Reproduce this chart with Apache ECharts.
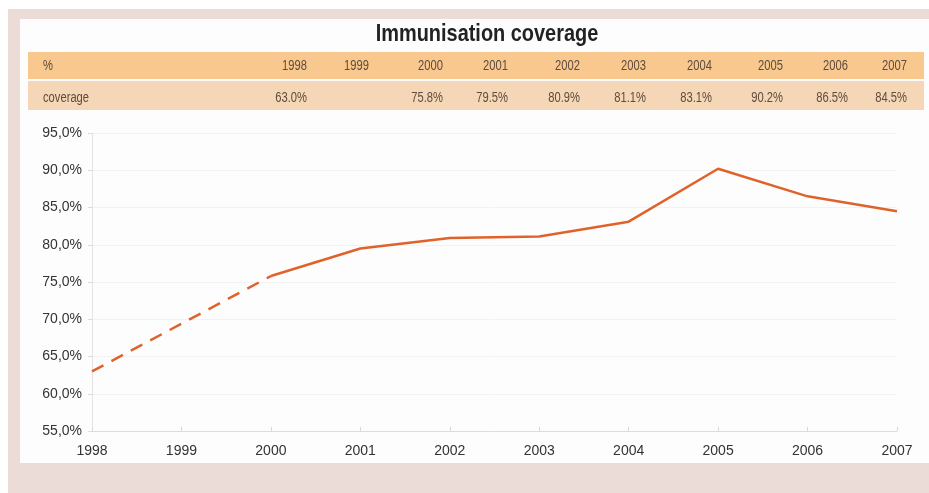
<!DOCTYPE html>
<html>
<head>
<meta charset="utf-8">
<script src="https://cdn.jsdelivr.net/npm/echarts@6/dist/echarts.min.js"></script>
<style>
html,body{margin:0;padding:0;background:#fff;}
#c{width:929px;height:493px;}
</style>
</head>
<body>
<div id="c"></div>
<script>
// ---- data ----
var years = ['1998','1999','2000','2001','2002','2003','2004','2005','2006','2007'];
var coverage = [63.0, null, 75.8, 79.5, 80.9, 81.1, 83.1, 90.2, 86.5, 84.5];
var tableHeaderLabel = '%';
var tableRowLabel = 'coverage';
var titleText = 'Immunisation coverage';

// ---- table layout (column right edges) ----
var colRight = [307, 369, 443, 508, 580, 646, 712, 783, 848, 907];

var chart = echarts.init(document.getElementById('c'));

var dashedData = coverage.map(function (v, i) { return (i <= 2 && v != null) ? v : '-'; });
var solidData = coverage.map(function (v, i) { return (i >= 2 && v != null) ? v : '-'; });

var tableFont = '14px "Liberation Sans", Arial, sans-serif';
var txtCol = '#5e4c3e';
var sx = 0.8;

var graphics = [
  {type:'rect', z:-10, shape:{x:8,y:9,width:921,height:484}, style:{fill:'#EBDCD7'}, silent:true},
  {type:'rect', z:-9, shape:{x:20,y:19,width:909,height:444}, style:{fill:'#FEFDFD'}, silent:true},
  {type:'rect', z:-8, shape:{x:28,y:52,width:896,height:27}, style:{fill:'#F8C88E'}, silent:true},
  {type:'rect', z:-8, shape:{x:28,y:81,width:896,height:29}, style:{fill:'#F5D7B7'}, silent:true},
  {type:'text', x:487, y:34, scaleX:0.83,
    style:{text:titleText, font:'bold 24px "Liberation Sans", Arial, sans-serif', fill:'#222', align:'center', verticalAlign:'middle'}},
  {type:'text', x:43, y:66, scaleX:sx, style:{text:tableHeaderLabel, font:tableFont, fill:txtCol, align:'left', verticalAlign:'middle'}},
  {type:'text', x:43, y:98, scaleX:sx, style:{text:tableRowLabel, font:tableFont, fill:txtCol, align:'left', verticalAlign:'middle'}}
];
years.forEach(function (y, i) {
  graphics.push({type:'text', x:colRight[i], y:66, scaleX:sx, style:{text:y, font:tableFont, fill:txtCol, align:'right', verticalAlign:'middle'}});
  if (coverage[i] != null) {
    graphics.push({type:'text', x:colRight[i], y:98, scaleX:sx, style:{text:coverage[i].toFixed(1) + '%', font:tableFont, fill:txtCol, align:'right', verticalAlign:'middle'}});
  }
});

var lineColor = '#E0622B';

chart.setOption({
  animation:false,
  backgroundColor:'transparent',
  graphic:graphics,
  grid:{left:92, right:32, top:133, bottom:62, containLabel:false},
  xAxis:{
    type:'category', data:years, boundaryGap:false,
    axisLine:{lineStyle:{color:'#dcdcdc', width:1}},
    axisTick:{inside:true, length:4, lineStyle:{color:'#d8d8d8'}},
    axisLabel:{fontFamily:'Liberation Sans, Arial, sans-serif', fontSize:14, color:'#333', margin:13},
    splitLine:{show:false}
  },
  yAxis:{
    type:'value', min:55, max:95, interval:5,
    axisLine:{show:true, lineStyle:{color:'#e4e4e4', width:1}},
    axisTick:{show:true, length:4, lineStyle:{color:'#dcdcdc'}},
    axisLabel:{fontFamily:'Liberation Sans, Arial, sans-serif', fontSize:14, color:'#333', margin:10,
      formatter:function (v) { return v.toFixed(1).replace('.', ',') + '%'; }},
    splitLine:{show:true, lineStyle:{color:'#f2f2f2', width:1}}
  },
  series:[
    {type:'line', data:dashedData, connectNulls:true, symbol:'none', z:3,
      lineStyle:{color:lineColor, width:2.5, type:[13,9]}},
    {type:'line', data:solidData, symbol:'none', z:3,
      lineStyle:{color:lineColor, width:2.5}}
  ]
});
</script>
</body>
</html>
